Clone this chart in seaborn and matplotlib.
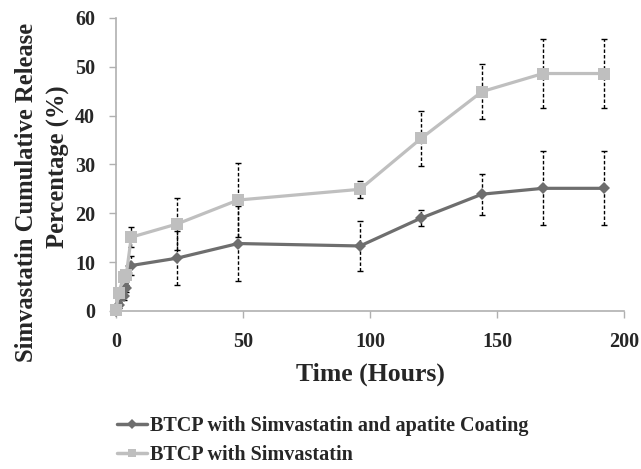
import matplotlib
matplotlib.use("Agg")
import matplotlib.pyplot as plt
import seaborn as sns
import pandas as pd
import numpy as np
from matplotlib.lines import Line2D

sns.set_theme(style="white")
plt.rcParams['font.family'] = ['Liberation Serif', 'DejaVu Serif']
plt.rcParams['font.weight'] = 'bold'

times = [0, 1, 3, 4, 6, 24, 48, 96, 120, 144, 168, 192]
coated = [0.0, 1.2, 3.0, 4.6, 9.3, 10.8, 13.8, 13.3, 19.0, 23.9, 25.1, 25.1]
coated_err = [0.3, 0.6, 0.8, 0.8, 2.0, 5.5, 7.6, 5.2, 1.6, 4.2, 7.6, 7.6]
plain = [0.2, 3.6, 7.0, 7.3, 15.1, 17.8, 22.7, 24.9, 35.3, 44.9, 48.6, 48.6]
plain_err = [0.3, 0.8, 1.0, 1.0, 2.1, 5.3, 7.5, 1.8, 5.7, 5.6, 7.0, 7.0]
series_names = ["BTCP with Simvastatin and apatite Coating", "BTCP with Simvastatin"]
x_ticks = [0, 50, 100, 150, 200]
y_ticks = [0, 10, 20, 30, 40, 50, 60]
ylabel_lines = ["Simvastatin Cumulative Release", "Percentage (%)"]

df = pd.DataFrame({
    "Time": times * 2,
    "Release": coated + plain,
    "Err": coated_err + plain_err,
    "Series": [series_names[0]] * len(times) + [series_names[1]] * len(times),
})

colors = {series_names[0]: "#6e6e6e", series_names[1]: "#bfbfbf"}
markers = {series_names[0]: "D", series_names[1]: "s"}
msizes = {series_names[0]: 6.5, series_names[1]: 8}

fig = plt.figure(figsize=(6.41, 4.69), dpi=100)
ax = fig.add_axes([0.181, 0.337, 0.793, 0.625])

for name in series_names:
    sub = df[df["Series"] == name]
    eb = ax.errorbar(sub["Time"], sub["Release"], yerr=sub["Err"], fmt="none",
                     ecolor="black", elinewidth=1.0, capsize=2.2, capthick=1.0, zorder=2)
    eb[2][0].set_linestyle((0, (2.5, 1.5)))

for name in series_names:
    sub = df[df["Series"] == name]
    sns.lineplot(data=sub, x="Time", y="Release", ax=ax, color=colors[name],
                 marker=markers[name], markersize=msizes[name], markeredgewidth=0,
                 linewidth=2.3, legend=False, zorder=3, errorbar=None)

for ln in ax.lines:
    ln.set_clip_on(False)

ax.set_xlim(0, 200)
ax.set_ylim(0, 60)
ax.set_xticks(x_ticks)
ax.set_yticks(y_ticks)
ax.set_xticklabels([str(t) for t in x_ticks], fontsize=14.5, fontweight="bold")
ax.set_yticklabels([str(t) for t in y_ticks], fontsize=14.5, fontweight="bold")
for s in ["top", "right"]:
    ax.spines[s].set_visible(False)
for s in ["left", "bottom"]:
    ax.spines[s].set_color("#b0b0b0")
    ax.spines[s].set_linewidth(1.2)
ax.tick_params(axis="both", which="both", direction="out", length=5, width=1,
               color="#b0b0b0", left=True, bottom=True, pad=10)

ax.set_xlabel("Time (Hours)", fontsize=18.5, fontweight="bold")
ax.xaxis.set_label_coords(0.5, -0.175)
ax.set_ylabel("")

fig.text(27 / 641, 1 - 192 / 469, ylabel_lines[0], rotation=90, ha="center", va="center",
         fontsize=17.7, fontweight="bold")
fig.text(58 / 641, 1 - 167 / 469, ylabel_lines[1], rotation=90, ha="center", va="center",
         fontsize=17.7, fontweight="bold")

handles = [Line2D([0], [0], color=colors[n], marker=markers[n], markersize=msizes[n] * 0.8,
                  linewidth=2.5, markeredgewidth=0) for n in series_names]
fig.legend(handles, series_names, loc="upper left", bbox_to_anchor=(117 / 641, 1 - 416 / 469),
           frameon=False, prop={"size": 14.5, "weight": "bold"}, handlelength=1.5,
           handletextpad=0.15, labelspacing=0.45, borderaxespad=0, borderpad=0)

fig.savefig("out.png", dpi=100)
